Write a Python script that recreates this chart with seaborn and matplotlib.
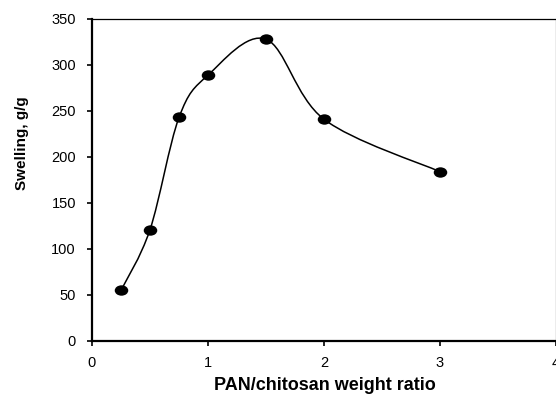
import numpy as np
import pandas as pd
import matplotlib
matplotlib.use("Agg")
import matplotlib.pyplot as plt
import seaborn as sns
from matplotlib.path import Path
from matplotlib.patches import PathPatch
from matplotlib.transforms import Affine2D

ratio = [0.25, 0.5, 0.75, 1.0, 1.5, 2.0, 3.0]
swelling = [55, 121, 243, 289, 328, 241, 184]
x_ticks = [0, 1, 2, 3, 4]
y_ticks = [0, 50, 100, 150, 200, 250, 300, 350]

df = pd.DataFrame({"ratio": ratio, "swelling": swelling})

sns.set_theme(style="white")
plt.rcParams['font.family'] = ['Liberation Sans', 'DejaVu Sans']

fig = plt.figure(figsize=(5.56, 3.95), dpi=100)
ax = fig.add_axes([92/556, 54/395, 1 - 92/556, (341-19)/395])

# Smoothed line (Catmull-Rom style Bezier, as in spreadsheet "smoothed line")
pts = np.column_stack([df["ratio"].to_numpy(float), df["swelling"].to_numpy(float)])
verts = [tuple(pts[0])]
codes = [Path.MOVETO]
n = len(pts)
for i in range(n - 1):
    p0 = pts[i - 1] if i > 0 else pts[i]
    p1 = pts[i]
    p2 = pts[i + 1]
    p3 = pts[i + 2] if i + 2 < n else pts[i + 1]
    c1 = p1 + (p2 - p0) / 6.0
    c2 = p2 - (p3 - p1) / 6.0
    verts += [tuple(c1), tuple(c2), tuple(p2)]
    codes += [Path.CURVE4] * 3
ax.add_patch(PathPatch(Path(verts, codes), facecolor="none", edgecolor="black", lw=1.1, zorder=2))

ellipse = Path.unit_circle().transformed(Affine2D().scale(1.3, 1.0))
sns.scatterplot(data=df, x="ratio", y="swelling", ax=ax, marker=ellipse, s=95,
                color="black", edgecolor="black", linewidth=0, zorder=3, legend=False)

ax.set_xlim(0, 4)
ax.set_ylim(0, 350)
ax.set_xticks(x_ticks)
ax.set_yticks(y_ticks)
ax.set_xticklabels([str(v) for v in x_ticks])
ax.set_yticklabels([str(v) for v in y_ticks])
ax.tick_params(axis="both", direction="out", length=3.6, width=1.2, color="black",
               labelsize=10.5, labelcolor="black")
ax.tick_params(axis="y", left=True, pad=8)
ax.tick_params(axis="x", bottom=True, pad=7)

for s in ["left", "bottom"]:
    ax.spines[s].set_color("black")
    ax.spines[s].set_linewidth(1.6)
ax.spines["top"].set_color("black")
ax.spines["top"].set_linewidth(0.9)
ax.spines["right"].set_color("#a0a0a0")
ax.spines["right"].set_linewidth(1.0)

ax.set_xlabel("")
ax.set_ylabel("")
fig.text(325/556, 1 - 390/395, "PAN/chitosan weight ratio", ha="center", va="baseline",
         fontsize=13, fontweight="bold", color="black")
fig.text(22/556, 1 - 143/395, "Swelling, g/g", ha="center", va="center", rotation=90,
         fontsize=11, fontweight="bold", color="black")

fig.savefig("out.png", dpi=100)
